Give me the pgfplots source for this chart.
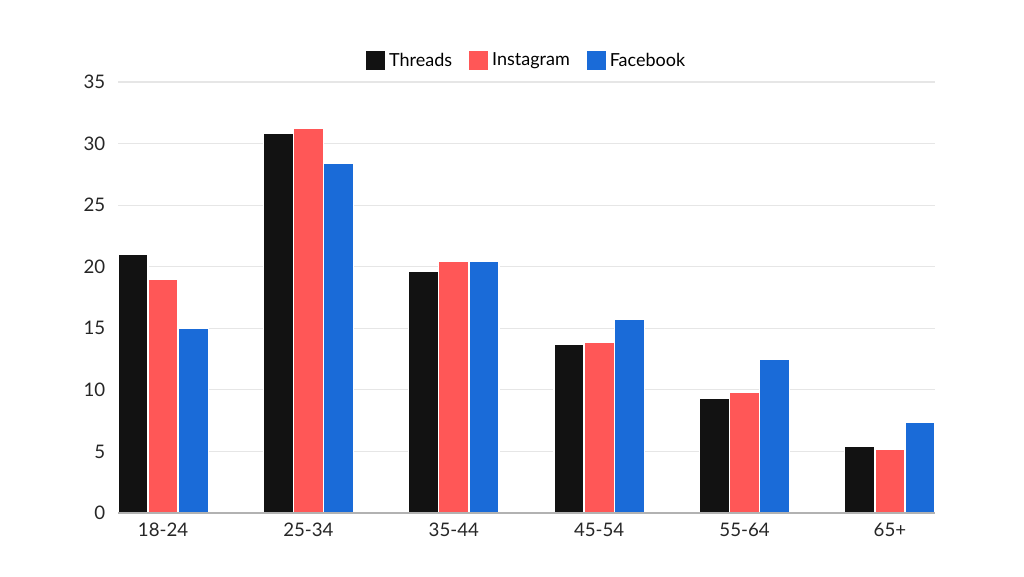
\documentclass[border=0pt]{standalone}
\usepackage{pgfplots}
\pgfplotsset{compat=1.18}
\usepackage{fontspec}
\setmainfont{Lato}
\definecolor{cthreads}{HTML}{121212}
\definecolor{cinsta}{HTML}{FF5757}
\definecolor{cfb}{HTML}{1A6BD8}
\definecolor{cgrid}{HTML}{E6E6E6}
\begin{document}
\begin{tikzpicture}
\path[use as bounding box] (-88.5pt,-47.25pt) rectangle (679.5pt,384.75pt);
\begin{axis}[
  scale only axis, width=612.75pt, height=323.25pt,
  ybar=0pt, bar width=0.207,
  ymin=0, ymax=35, ytick={0,5,...,35},
  xmin=-0.31, xmax=5.31,
  xtick={0,...,5}, xticklabels={18-24,25-34,35-44,45-54,55-64,65+},
  axis line style={draw=none},
  ytick pos=left, xtick pos=bottom,
  ymajorgrids, grid style={cgrid, line width=0.8pt},
  major tick length=0pt,
  tick label style={font=\fontsize{14}{16}\selectfont, text=black!85},
  yticklabel style={xshift=-6pt},
  xticklabel style={yshift=-4pt},
  /pgf/number format/assume math mode=true,
  legend style={at={(0.5,1)}, anchor=south, yshift=6pt, draw=none, legend columns=-1,
    font=\fontsize{13.5}{16}\selectfont, /tikz/every even column/.append style={column sep=10pt}},
  legend image code/.code={\fill[#1] (0pt,-7.5pt) rectangle (15pt,7.5pt);},
  every axis plot/.append style={draw=white, line width=1pt},
  clip=false,
]
\addplot[fill=cthreads] coordinates {(0,21.0) (1,30.8) (2,19.6) (3,13.7) (4,9.3) (5,5.4)};
\addplot[fill=cinsta] coordinates {(0,19.0) (1,31.2) (2,20.4) (3,13.9) (4,9.8) (5,5.2)};
\addplot[fill=cfb] coordinates {(0,15.0) (1,28.4) (2,20.4) (3,15.7) (4,12.5) (5,7.4)};
\legend{Threads,Instagram,Facebook}
\draw[black!30, line width=0.8pt] (rel axis cs:0,0) -- (rel axis cs:1,0);
\end{axis}
\end{tikzpicture}
\end{document}
